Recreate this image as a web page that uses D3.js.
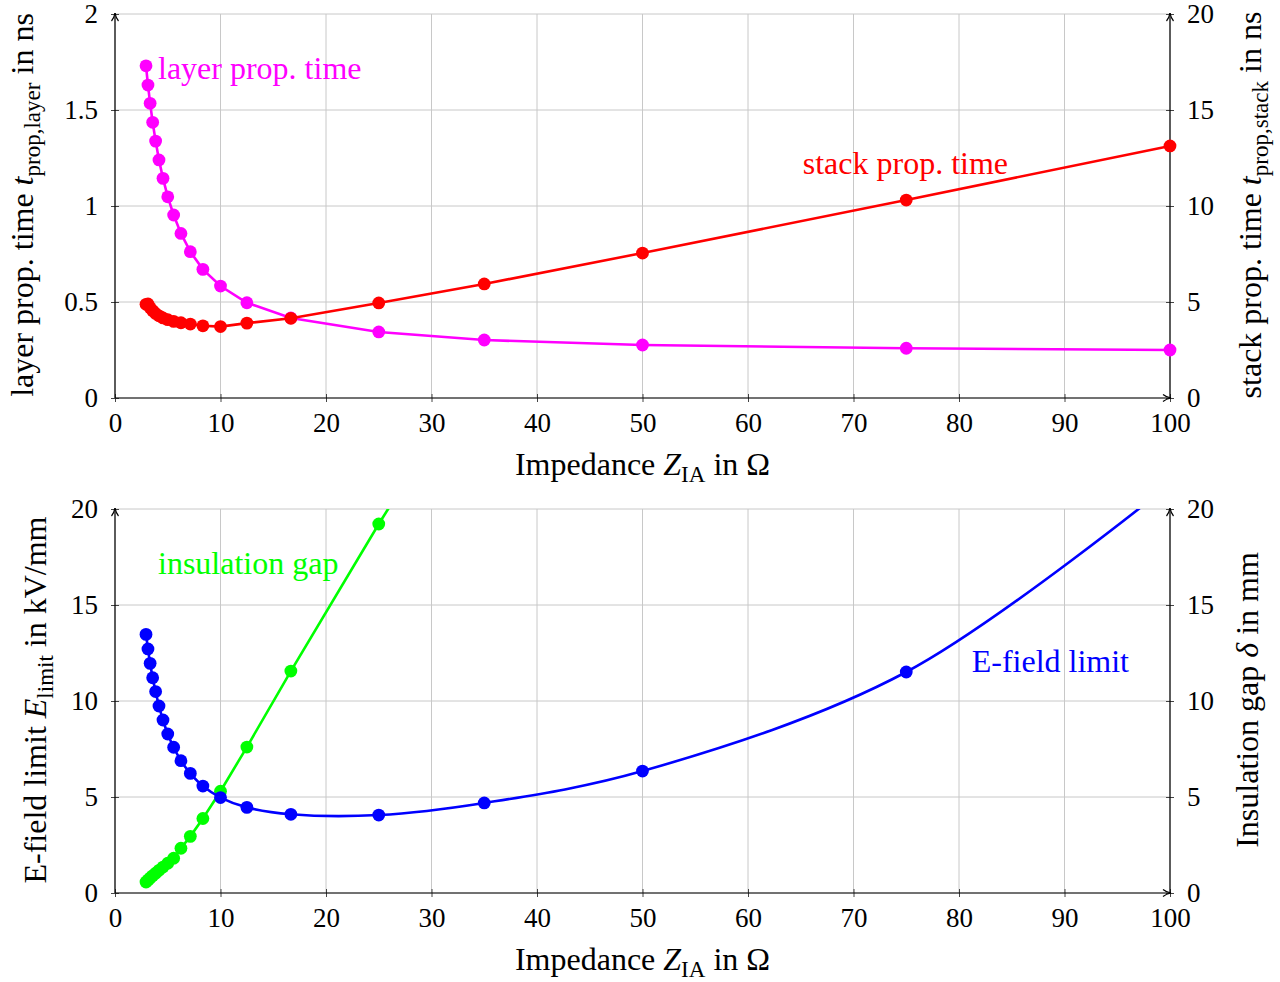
<!DOCTYPE html>
<html>
<head>
<meta charset="utf-8">
<script src="https://cdn.jsdelivr.net/npm/d3@7"></script>
<style>
  html, body { margin: 0; padding: 0; background: #fff; }
  svg { display: block; }
  text { font-family: "Liberation Serif", "DejaVu Serif", serif; }
</style>
</head>
<body>
<svg id="chart" width="1280" height="982"></svg>
<script>
// ---------------- data ----------------
const impedance = [2.94, 3.125, 3.33, 3.57, 3.85, 4.17, 4.55, 5, 5.56, 6.25, 7.14, 8.33, 10, 12.5, 16.67, 25, 35, 50, 75, 100];
const layerPropTime = [1.73, 1.63, 1.535, 1.436, 1.338, 1.24, 1.144, 1.048, 0.953, 0.857, 0.762, 0.670, 0.583, 0.496, 0.417, 0.344, 0.302, 0.276, 0.259, 0.25];
const stackPropTime = [4.88, 4.9, 4.7, 4.55, 4.4, 4.28, 4.17, 4.08, 3.99, 3.92, 3.85, 3.76, 3.72, 3.9, 4.15, 4.95, 5.94, 7.55, 10.31, 13.13];
const eFieldLimit = [13.47, 12.71, 11.96, 11.21, 10.49, 9.74, 9.01, 8.28, 7.59, 6.89, 6.23, 5.57, 4.97, 4.46, 4.10, 4.06, 4.69, 6.35, 11.51, 21.3];
const insulationGap = [0.57, 0.67, 0.78, 0.9, 1.03, 1.18, 1.35, 1.55, 1.81, 2.33, 2.95, 3.88, 5.3, 7.6, 11.56, 19.22, 28, 43, 68, 93];

const xTicks = [0, 10, 20, 30, 40, 50, 60, 70, 80, 90, 100];
const yTicksLayer = [0, 0.5, 1, 1.5, 2];
const yTicksStack = [0, 5, 10, 15, 20];
const yTicksE = [0, 5, 10, 15, 20];
const yTicksGap = [0, 5, 10, 15, 20];

const COLORS = { magenta: "#ff00ff", red: "#ff0000", green: "#00ff00", blue: "#0000ff" };

// ---------------- drawing ----------------
const LABEL_SIZE = 32;
const TICK_SIZE = 27;
const svg = d3.select("#chart");
const defs = svg.append("defs");
const marker = defs.append("marker")
  .attr("id", "arrow").attr("viewBox", "0 0 10 10")
  .attr("refX", 9).attr("refY", 5)
  .attr("markerWidth", 10).attr("markerHeight", 10)
  .attr("markerUnits", "userSpaceOnUse")
  .attr("orient", "auto");
marker.append("path").attr("d", "M1,1.5 Q4,4 9,5 Q4,6 1,8.5").attr("fill", "none").attr("stroke", "#000").attr("stroke-width", 1.2);

const left = 115, right = 1170;
const x = d3.scaleLinear().domain([0, 100]).range([left, right]);

function richText(g, parts, attrs) {
  const t = g.append("text");
  Object.entries(attrs).forEach(([k, v]) => t.attr(k, v));
  parts.forEach(p => {
    const ts = t.append("tspan").text(p.t);
    if (p.i) ts.attr("font-style", "italic");
    if (p.sub) ts.attr("font-size", "0.72em").attr("dy", p.dy || "0.3em");
    if (p.back) ts.attr("dy", p.back);
  });
  return t;
}

function panel(cfg) {
  const g = svg.append("g");
  const yL = d3.scaleLinear().domain(cfg.yLDomain).range([cfg.bottom, cfg.top]);
  const yR = d3.scaleLinear().domain(cfg.yRDomain).range([cfg.bottom, cfg.top]);
  const clipId = "clip" + cfg.id;
  defs.append("clipPath").attr("id", clipId).append("rect")
    .attr("x", left - 8).attr("y", cfg.top).attr("width", right - left + 16).attr("height", cfg.bottom - cfg.top + 8);

  // grid
  const grid = g.append("g").attr("stroke", "#c8c8c8").attr("stroke-width", 1);
  xTicks.forEach(v => grid.append("line").attr("x1", x(v)).attr("x2", x(v)).attr("y1", cfg.top).attr("y2", cfg.bottom));
  cfg.yLTicks.forEach(v => grid.append("line").attr("x1", left).attr("x2", right).attr("y1", yL(v)).attr("y2", yL(v)));

  // axes via d3
  const xAxis = d3.axisBottom(x).tickValues(xTicks).tickSize(4).tickPadding(11).tickFormat(d3.format("d"));
  const ax = g.append("g").attr("transform", `translate(0,${cfg.bottom})`).call(xAxis);
  const yAxisL = d3.axisLeft(yL).tickValues(cfg.yLTicks).tickSize(4).tickPadding(13).tickFormat(cfg.yLFormat);
  const ayl = g.append("g").attr("transform", `translate(${left},0)`).call(yAxisL);
  const yAxisR = d3.axisRight(yR).tickValues(cfg.yRTicks).tickSize(4).tickPadding(13).tickFormat(d3.format("d"));
  const ayr = g.append("g").attr("transform", `translate(${right},0)`).call(yAxisR);
  [ax, ayl, ayr].forEach(a => {
    a.select(".domain").remove();
    a.selectAll("text").attr("font-size", TICK_SIZE).attr("fill", "#000").attr("font-family", "'Liberation Serif', serif");
    a.selectAll("line").attr("stroke", "#444");
  });
  ax.selectAll("line").attr("y1", -4).attr("y2", 4);
  ayl.selectAll("line").attr("x1", -4).attr("x2", 4);
  ayr.selectAll("line").attr("x1", -4).attr("x2", 4);

  // axis lines with arrows
  g.append("line").attr("x1", left).attr("x2", right + 1).attr("y1", cfg.bottom).attr("y2", cfg.bottom)
    .attr("stroke", "#000").attr("stroke-width", 1.2).attr("marker-end", "url(#arrow)");
  g.append("line").attr("x1", left).attr("x2", left).attr("y1", cfg.bottom).attr("y2", cfg.top - 1)
    .attr("stroke", "#000").attr("stroke-width", 1.2).attr("marker-end", "url(#arrow)");
  g.append("line").attr("x1", right).attr("x2", right).attr("y1", cfg.bottom).attr("y2", cfg.top - 1)
    .attr("stroke", "#000").attr("stroke-width", 1.2).attr("marker-end", "url(#arrow)");

  // series
  const plot = g.append("g").attr("clip-path", `url(#${clipId})`);
  cfg.series.forEach(s => {
    const ys = s.axis === "L" ? yL : yR;
    const pts = impedance.map((z, i) => [z, s.values[i]]);
    const line = d3.line().x(d => x(d[0])).y(d => ys(d[1])).curve(s.curve || d3.curveLinear);
    plot.append("path").attr("d", line(pts)).attr("fill", "none").attr("stroke", s.color).attr("stroke-width", 2.6);
    plot.selectAll(null).data(pts).enter().append("circle")
      .attr("cx", d => x(d[0])).attr("cy", d => ys(d[1])).attr("r", 6.4).attr("fill", s.color);
  });

  // in-plot labels
  cfg.labels.forEach(l => {
    g.append("text").attr("x", l.x).attr("y", l.y).attr("fill", l.color).attr("font-size", LABEL_SIZE)
      .attr("text-anchor", l.anchor || "start").text(l.text);
  });

  // x label
  richText(g, [{ t: "Impedance " }, { t: "Z", i: true }, { t: "IA", sub: true, dy: "0.3em" }, { t: " in Ω", back: "-0.22em" }],
    { x: (left + right) / 2, y: cfg.bottom + 77, "text-anchor": "middle", "font-size": LABEL_SIZE });

  // y labels
  richText(g, cfg.yLLabel, { transform: `translate(${cfg.yLX},${cfg.yLMid}) rotate(-90)`, "text-anchor": "middle", "font-size": LABEL_SIZE });
  richText(g, cfg.yRLabel, { transform: `translate(${cfg.yRX},${cfg.yRMid}) rotate(-90)`, "text-anchor": "middle", "font-size": LABEL_SIZE });
}

panel({
  id: 1, top: 14, bottom: 398,
  yLDomain: [0, 2], yRDomain: [0, 20],
  yLTicks: yTicksLayer, yRTicks: yTicksStack,
  yLFormat: d => String(d),
  series: [
    { values: layerPropTime, axis: "L", color: COLORS.magenta },
    { values: stackPropTime, axis: "R", color: COLORS.red }
  ],
  labels: [
    { text: "layer prop. time", x: 158, y: 79, color: COLORS.magenta },
    { text: "stack prop. time", x: 1008, y: 174, color: COLORS.red, anchor: "end" }
  ],
  yLX: 33, yLMid: 205,
  yLLabel: [{ t: "layer prop. time " }, { t: "t", i: true }, { t: "prop,layer", sub: true }, { t: " in ns", back: "-0.22em" }],
  yRX: 1261, yRMid: 205,
  yRLabel: [{ t: "stack prop. time " }, { t: "t", i: true }, { t: "prop,stack", sub: true }, { t: " in ns", back: "-0.22em" }]
});

panel({
  id: 2, top: 509, bottom: 893,
  yLDomain: [0, 20], yRDomain: [0, 20],
  yLTicks: yTicksE, yRTicks: yTicksGap,
  yLFormat: d3.format("d"),
  series: [
    { values: insulationGap, axis: "R", color: COLORS.green },
    { values: eFieldLimit, axis: "L", color: COLORS.blue, curve: d3.curveCatmullRom }
  ],
  labels: [
    { text: "insulation gap", x: 158, y: 574, color: COLORS.green },
    { text: "E-field limit", x: 1129, y: 672, color: COLORS.blue, anchor: "end" }
  ],
  yLX: 46, yLMid: 700,
  yLLabel: [{ t: "E-field limit " }, { t: "E", i: true }, { t: "limit", sub: true }, { t: " in kV/mm", back: "-0.22em" }],
  yRX: 1258, yRMid: 700,
  yRLabel: [{ t: "Insulation gap " }, { t: "δ", i: true }, { t: " in mm" }]
});
</script>
</body>
</html>
